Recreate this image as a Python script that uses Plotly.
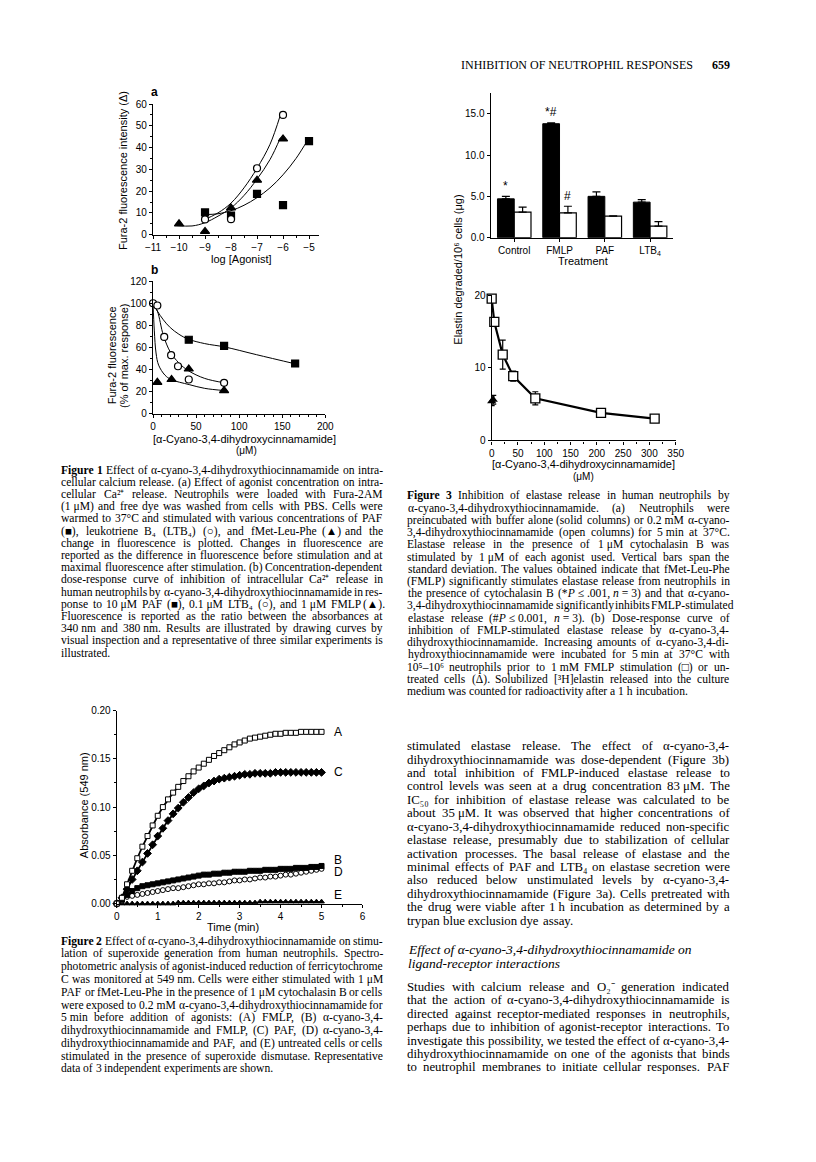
import plotly.graph_objects as go

# page is 816 x 1162; the html body keeps its default 8px margin
PAGE_W, PAGE_H = 816, 1162
OFF = 8
W, H = PAGE_W - 2 * OFF, PAGE_H - 2 * OFF
SANS = "Liberation Sans, Arial, sans-serif"
SERIF = "Liberation Serif, Times New Roman, serif"

# ---------------- Figure 1a : fluorescence vs log[agonist] ----------------
a_paf_x = [-9, -8, -7, -6, -5]
a_paf_y = [10.2, 8.8, 18.7, 13.6, 43.0]
a_ltb4_x = [-9, -8, -7, -6]
a_ltb4_y = [7.0, 7.1, 30.5, 55.0]
a_fmlp_x = [-10, -9, -8, -7, -6]
a_fmlp_y = [5.0, 1.5, 12.3, 25.0, 44.0]
# curves drawn "by visual inspection"
a_paf_cx = [-9.05, -8.5, -8.0, -7.5, -7.0, -6.5, -6.0, -5.5, -5.05]
a_paf_cy = [9.2, 9.6, 11.0, 13.5, 17.0, 21.5, 27.5, 35.0, 43.5]
a_ltb4_cx = [-9.1, -8.5, -8.0, -7.5, -7.0, -6.5, -6.1]
a_ltb4_cy = [6.5, 10.0, 14.5, 21.5, 30.5, 41.5, 55.0]
a_fmlp_cx = [-10.1, -9.5, -9.0, -8.5, -8.0, -7.5, -7.0, -6.5, -6.1]
a_fmlp_cy = [4.2, 4.0, 5.5, 8.5, 12.3, 18.0, 25.5, 34.5, 44.5]

# ---------------- Figure 1b : % of max response vs drug ----------------
b_paf_x = [41.5, 82.5, 165]
b_paf_y = [67.0, 61.5, 45.5]
b_ltb4_x = [0, 5, 13, 21, 29, 41.5, 82.5]
b_ltb4_y = [100, 98, 69.5, 53, 43, 31, 28]
b_fmlp_x = [5, 21.5, 41.5, 82.5]
b_fmlp_y = [28.5, 31, 40.5, 21]
b_paf_cx = [0, 5, 12, 20, 30, 41, 60, 83, 120, 166]
b_paf_cy = [100, 93, 85, 78, 72, 67.5, 63.5, 60.5, 53.5, 45]
b_ltb4_cx = [0, 5, 12, 20, 30, 41, 60, 83]
b_ltb4_cy = [100, 93, 71, 56, 46, 39, 32, 28]
b_fmlp_cx = [0, 1.5, 3.5, 6.5, 13.8, 21, 42, 60, 83]
b_fmlp_cy = [100, 75, 55, 44, 35, 31, 26.4, 23, 21]

# ---------------- Figure 2 : absorbance vs time ----------------
time_min = [0.0, 0.125, 0.25, 0.375, 0.5, 0.625, 0.75, 0.875, 1.0, 1.125,
            1.25, 1.375, 1.5, 1.625, 1.75, 1.875, 2.0, 2.125, 2.25, 2.375,
            2.5, 2.625, 2.75, 2.875, 3.0, 3.125, 3.25, 3.375, 3.5, 3.625,
            3.75, 3.875, 4.0, 4.125, 4.25, 4.375, 4.5, 4.625, 4.75, 4.875,
            5.0]
abs_A = [0.000, 0.006, 0.020, 0.034, 0.047, 0.059, 0.070, 0.081, 0.091, 0.100,
         0.108, 0.115, 0.121, 0.127, 0.132, 0.137, 0.141, 0.145, 0.149, 0.153,
         0.156, 0.159, 0.162, 0.165, 0.167, 0.169, 0.171, 0.172, 0.173, 0.174,
         0.175, 0.176, 0.176, 0.177, 0.177, 0.177, 0.178, 0.178, 0.178, 0.178,
         0.178]
abs_B = [0.000, 0.004, 0.009, 0.013, 0.016, 0.018, 0.019, 0.020, 0.021, 0.022,
         0.023, 0.024, 0.025, 0.026, 0.027, 0.028, 0.029, 0.030, 0.030, 0.031,
         0.031, 0.032, 0.032, 0.033, 0.033, 0.033, 0.034, 0.034, 0.034, 0.035,
         0.035, 0.035, 0.036, 0.036, 0.036, 0.037, 0.037, 0.037, 0.038, 0.038,
         0.039]
abs_C = [0.000, 0.006, 0.015, 0.025, 0.034, 0.043, 0.052, 0.061, 0.070, 0.078,
         0.086, 0.093, 0.099, 0.105, 0.110, 0.115, 0.119, 0.122, 0.125, 0.127,
         0.129, 0.130, 0.131, 0.132, 0.133, 0.134, 0.134, 0.135, 0.135, 0.135,
         0.135, 0.136, 0.136, 0.136, 0.136, 0.136, 0.136, 0.136, 0.136, 0.136,
         0.136]
abs_D = [0.000, 0.003, 0.007, 0.008, 0.009, 0.010, 0.011, 0.012, 0.013, 0.014,
         0.015, 0.016, 0.016, 0.017, 0.018, 0.019, 0.020, 0.020, 0.021, 0.021,
         0.022, 0.022, 0.023, 0.024, 0.024, 0.025, 0.025, 0.026, 0.027, 0.027,
         0.028, 0.028, 0.029, 0.030, 0.030, 0.031, 0.032, 0.033, 0.034, 0.035,
         0.036]
abs_E = [0.000, 0.000, 0.000, 0.000, 0.000, 0.000, 0.000, 0.000, 0.000, 0.000,
         0.000, 0.000, 0.001, 0.001, 0.001, 0.001, 0.001, 0.001, 0.001, 0.001,
         0.001, 0.001, 0.001, 0.001, 0.001, 0.001, 0.001, 0.001, 0.002, 0.002,
         0.002, 0.002, 0.002, 0.002, 0.002, 0.002, 0.002, 0.002, 0.002, 0.002,
         0.002]

# ---------------- Figure 3a : elastase release bars ----------------
treatments = ["Control", "FMLP", "PAF", "LTB<sub>4</sub>"]
buffer_elastase = [4.7, 13.8, 5.0, 4.3]
buffer_sd = [0.3, 0.1, 0.55, 0.3]
drug_elastase = [3.1, 3.0, 2.6, 1.4]
drug_sd = [0.6, 0.8, 0.05, 0.55]
sig_marks = [(0, "solid", "*"), (1, "solid", "*#"), (1, "open", "#")]

# ---------------- Figure 3b : dose response ----------------
dose_fmlp = [0, 5, 21, 41, 83, 208, 310]
elastin_fmlp = [19.5, 16.3, 11.8, 8.85, 5.8, 3.8, 3.0]
elastin_fmlp_sd = [0.2, 0.3, 2.0, 0.7, 0.9, 0.3, 0.3]
dose_untreated = [0, 3]
elastin_untreated = [5.4, 5.6]
elastin_untreated_sd = [0.6, 0.6]

# ---------------- page text ----------------
FIG1_CAPTION = [
    "<b>Figure</b> <b>1</b> Effect of α-cyano-3,4-dihydroxythiocinnamamide on intra-",
    "cellular calcium release. (a) Effect of agonist concentration on intra-",
    "cellular Ca²⁺ release. Neutrophils were loaded with Fura-2AM",
    "(1\u00a0μM) and free dye was washed from cells with PBS. Cells were",
    "warmed to 37°C and stimulated with various concentrations of PAF",
    "(■), leukotriene B₄ (LTB₄) (○), and fMet-Leu-Phe (▲) and the",
    "change in fluorescence is plotted. Changes in fluorescence are",
    "reported as the difference in fluorescence before stimulation and at",
    "maximal fluorescence after stimulation. (b) Concentration-dependent",
    "dose-response curve of inhibition of intracellular Ca²⁺ release in",
    "human neutrophils by α-cyano-3,4-dihydroxythiocinnamamide in res-",
    "ponse to 10\u00a0μM PAF (■), 0.1\u00a0μM LTB₄ (○), and 1\u00a0μM FMLP (▲).",
    "Fluorescence is reported as the ratio between the absorbances at",
    "340\u00a0nm and 380\u00a0nm. Results are illustrated by drawing curves by",
    "visual inspection and a representative of three similar experiments is",
    "illustrated.",
]
FIG2_CAPTION = [
    "<b>Figure</b> <b>2</b> Effect of α-cyano-3,4-dihydroxythiocinnamamide on stimu-",
    "lation of superoxide generation from human neutrophils. Spectro-",
    "photometric analysis of agonist-induced reduction of ferricytochrome",
    "C was monitored at 549\u00a0nm. Cells were either stimulated with 1\u00a0μM",
    "PAF or fMet-Leu-Phe in the presence of 1\u00a0μM cytochalasin B or cells",
    "were exposed to 0.2\u00a0mM α-cyano-3,4-dihydroxythiocinnamamide for",
    "5\u00a0min before addition of agonists: (A) FMLP, (B) α-cyano-3,4-",
    "dihydroxythiocinnamamide and FMLP, (C) PAF, (D) α-cyano-3,4-",
    "dihydroxythiocinnamamide and PAF, and (E) untreated cells or cells",
    "stimulated in the presence of superoxide dismutase. Representative",
    "data of 3 independent experiments are shown.",
]
FIG3_CAPTION = [
    "<b>Figure</b> <b>3</b> Inhibition of elastase release in human neutrophils by",
    "α-cyano-3,4-dihydroxythiocinnamamide. (a) Neutrophils were",
    "preincubated with buffer alone (solid columns) or 0.2\u00a0mM α-cyano-",
    "3,4-dihydroxythiocinnamamide (open columns) for 5\u00a0min at 37°C.",
    "Elastase release in the presence of 1\u00a0μM cytochalasin B was",
    "stimulated by 1\u00a0μM of each agonist used. Vertical bars span the",
    "standard deviation. The values obtained indicate that fMet-Leu-Phe",
    "(FMLP) significantly stimulates elastase release from neutrophils in",
    "the presence of cytochalasin B (*<i>P</i>\u00a0≤\u00a0.001, <i>n</i>\u00a0=\u00a03) and that α-cyano-",
    "3,4-dihydroxythiocinnamamide significantly inhibits FMLP-stimulated",
    "elastase release (#<i>P</i>\u00a0≤\u00a00.001, <i>n</i>\u00a0=\u00a03). (b) Dose-response curve of",
    "inhibition of FMLP-stimulated elastase release by α-cyano-3,4-",
    "dihydroxythiocinnamamide. Increasing amounts of α-cyano-3,4-di-",
    "hydroxythiocinnamamide were incubated for 5\u00a0min at 37°C with",
    "10⁵–10⁶ neutrophils prior to 1\u00a0mM FMLP stimulation (□) or un-",
    "treated cells (Δ). Solubilized [³H]elastin released into the culture",
    "medium was counted for radioactivity after a 1\u00a0h incubation.",
]
BODY_1 = [
    "stimulated elastase release. The effect of α-cyano-3,4-",
    "dihydroxythiocinnamamide was dose-dependent (Figure 3b)",
    "and total inhibition of FMLP-induced elastase release to",
    "control levels was seen at a drug concentration 83\u00a0μM. The",
    "IC₅₀ for inhibition of elastase release was calculated to be",
    "about 35\u00a0μM. It was observed that higher concentrations of",
    "α-cyano-3,4-dihydroxythiocinnamamide reduced non-specific",
    "elastase release, presumably due to stabilization of cellular",
    "activation processes. The basal release of elastase and the",
    "minimal effects of PAF and LTB₄ on elastase secretion were",
    "also reduced below unstimulated levels by α-cyano-3,4-",
    "dihydroxythiocinnamamide (Figure 3a). Cells pretreated with",
    "the drug were viable after 1\u00a0h incubation as determined by a",
    "trypan blue exclusion dye assay.",
]
HEADING = [
    "Effect of α-cyano-3,4-dihydroxythiocinnamamide on",
    "ligand-receptor interactions",
]
BODY_2 = [
    "Studies with calcium release and O₂⁻ generation indicated",
    "that the action of α-cyano-3,4-dihydroxythiocinnamamide is",
    "directed against receptor-mediated responses in neutrophils,",
    "perhaps due to inhibition of agonist-receptor interactions. To",
    "investigate this possibility, we tested the effect of α-cyano-3,4-",
    "dihydroxythiocinnamamide on one of the agonists that binds",
    "to neutrophil membranes to initiate cellular responses. PAF",
]

# Times / Liberation Serif advance widths (1/1000 em), used to justify lines
TW = dict(zip(
    " !\"#$%&'()*+,-./0123456789:;<=>?@ABCDEFGHIJKLMNOPQRSTUVWXYZ[\\]^_`abcdefghijklmnopqrstuvwxyz",
    [250, 333, 408, 500, 500, 833, 778, 180, 333, 333, 500, 564, 250, 333, 250, 278]
    + [500] * 10
    + [278, 278, 564, 564, 564, 444, 921,
       722, 667, 667, 722, 611, 556, 722, 722, 333, 389, 722, 611, 889, 722, 722, 556,
       722, 667, 556, 611, 722, 722, 944, 722, 722, 611,
       333, 278, 333, 469, 500, 333,
       444, 500, 444, 500, 444, 333, 500, 500, 278, 278, 500, 278, 778, 500, 500, 500,
       500, 333, 389, 278, 500, 500, 722, 500, 500, 444]))
TW.update({'α': 560, 'μ': 520, '°': 400, '≤': 549, '–': 500, '■': 604, '○': 604,
           '▲': 604, '□': 604, 'Δ': 612, '\u00a0': 250, '²': 320, '³': 320, '⁵': 320,
           '⁶': 320, '⁺': 360, '⁻': 360, '₄': 320, '₅': 320, '₀': 320, '₂': 320})


def word_width(word, size):
    w, bold, i = 0.0, False, 0
    while i < len(word):
        if word[i] == '<':
            j = word.index('>', i)
            tag = word[i + 1:j]
            if tag == 'b':
                bold = True
            elif tag == '/b':
                bold = False
            i = j + 1
            continue
        w += TW.get(word[i], 500) * (1.07 if bold else 1.0)
        i += 1
    return w * size / 1000.0 * 1.02


def px(x):
    return (x - OFF) / W


def py(y):
    return 1 - (y - OFF) / H


annotations = []


def add_text(text, x, y, size, family=SERIF, xanchor='left', angle=0):
    annotations.append(dict(
        text=text, x=px(x), y=py(y), xref='paper', yref='paper',
        xanchor=xanchor, yanchor='middle', showarrow=False, textangle=angle,
        borderpad=0, borderwidth=0,
        font=dict(family=family, size=size, color='black')))


def set_block(lines, x0, x1, y0, dy, size, justify_last=False):
    for k, line in enumerate(lines):
        words = line.split(' ')
        widths = [word_width(w, size) for w in words]
        last = (k == len(lines) - 1) and not justify_last
        gap = 0.25 * size
        if len(words) > 1 and not last:
            gap = max((x1 - x0 - sum(widths)) / (len(words) - 1), 0.15 * size)
        x = x0
        for w, wd in zip(words, widths):
            add_text(w, x + wd / 2, y0 + k * dy, size, xanchor='center')
            x += wd + gap


fig = go.Figure()
BLACK = 'black'


def curve(x, y, xa, ya, width=1.0):
    fig.add_trace(go.Scatter(x=x, y=y, mode='lines', xaxis=xa, yaxis=ya,
                             line=dict(color=BLACK, width=width, shape='spline', smoothing=1.0),
                             hoverinfo='skip', cliponaxis=False))


def points(x, y, xa, ya, symbol, size, fill=BLACK):
    fig.add_trace(go.Scatter(x=x, y=y, mode='markers', xaxis=xa, yaxis=ya, cliponaxis=False,
                             marker=dict(symbol=symbol, size=size, color=fill,
                                         line=dict(color=BLACK, width=1.2))))


# Figure 1a
curve(a_paf_cx, a_paf_cy, 'x', 'y')
curve(a_ltb4_cx, a_ltb4_cy, 'x', 'y')
curve(a_fmlp_cx, a_fmlp_cy, 'x', 'y')
points(a_paf_x, a_paf_y, 'x', 'y', 'square', 7)
points(a_ltb4_x, a_ltb4_y, 'x', 'y', 'circle', 7, 'white')
points(a_fmlp_x, a_fmlp_y, 'x', 'y', 'triangle-up', 8)

# Figure 1b
curve(b_paf_cx, b_paf_cy, 'x2', 'y2')
curve(b_ltb4_cx, b_ltb4_cy, 'x2', 'y2')
curve(b_fmlp_cx, b_fmlp_cy, 'x2', 'y2')
points(b_paf_x, b_paf_y, 'x2', 'y2', 'square', 7)
points(b_ltb4_x, b_ltb4_y, 'x2', 'y2', 'circle', 7, 'white')
points(b_fmlp_x, b_fmlp_y, 'x2', 'y2', 'triangle-up', 8)

# Figure 2
fig2_series = [
    (abs_E, 'triangle-up', BLACK, 1.0, 5),
    (abs_D, 'circle', 'white', 1.0, 5),
    (abs_B, 'square', BLACK, 1.3, 5),
    (abs_C, 'diamond', BLACK, 1.8, 6),
    (abs_A, 'square', 'white', 1.8, 5),
]
for vals, sym, fill, lw, ms in fig2_series:
    fig.add_trace(go.Scatter(x=time_min, y=vals, mode='lines+markers', xaxis='x3', yaxis='y3',
                             cliponaxis=False, line=dict(color=BLACK, width=lw),
                             marker=dict(symbol=sym, size=ms, color=fill,
                                         line=dict(color=BLACK, width=1))))
curve_labels = [("A", abs_A, 0), ("B", abs_B, -6), ("C", abs_C, 0), ("D", abs_D, 3), ("E", abs_E, -7)]
for name, vals, shift in curve_labels:
    annotations.append(dict(text=name, x=time_min[-1] + 0.25, y=vals[-1], xref='x3', yref='y3',
                            xanchor='left', yanchor='middle', showarrow=False, yshift=-shift,
                            font=dict(family=SANS, size=12, color=BLACK)))

# Figure 3a
BW = 0.37
fig.add_trace(go.Bar(x=list(range(len(treatments))), y=buffer_elastase, width=BW, offset=-BW,
                     xaxis='x4', yaxis='y4', marker=dict(color=BLACK, line=dict(color=BLACK, width=1)),
                     error_y=dict(type='data', symmetric=False, array=buffer_sd,
                                  arrayminus=[0] * len(buffer_sd), color=BLACK, thickness=1.2, width=4)))
fig.add_trace(go.Bar(x=list(range(len(treatments))), y=drug_elastase, width=BW, offset=0,
                     xaxis='x4', yaxis='y4', marker=dict(color='white', line=dict(color=BLACK, width=1.2)),
                     error_y=dict(type='data', symmetric=False, array=drug_sd,
                                  arrayminus=[0] * len(drug_sd), color=BLACK, thickness=1.2, width=4)))
for gi, kind, txt in sig_marks:
    if kind == 'solid':
        xm, top = gi - BW / 2, buffer_elastase[gi] + buffer_sd[gi]
    else:
        xm, top = gi + BW / 2, drug_elastase[gi] + drug_sd[gi]
    annotations.append(dict(text=txt, x=xm, y=top + 0.2, xref='x4', yref='y4', xanchor='center',
                            yanchor='bottom', showarrow=False,
                            font=dict(family=SANS, size=12, color=BLACK)))

# Figure 3b
fig.add_trace(go.Scatter(x=dose_fmlp, y=elastin_fmlp, mode='lines+markers', xaxis='x5', yaxis='y5',
                         cliponaxis=False, line=dict(color=BLACK, width=2.2),
                         marker=dict(symbol='square', size=9, color='white', line=dict(color=BLACK, width=1.3)),
                         error_y=dict(type='data', array=elastin_fmlp_sd, color=BLACK, thickness=1.2, width=3)))
fig.add_trace(go.Scatter(x=dose_untreated, y=elastin_untreated, mode='markers', xaxis='x5', yaxis='y5',
                         cliponaxis=False,
                         marker=dict(symbol='triangle-up', size=8, color=BLACK),
                         error_y=dict(type='data', array=elastin_untreated_sd, color=BLACK, thickness=1.2, width=3)))


def dom_x(a, b):
    return [px(a), px(b)]


def dom_y(bottom, top):
    return [py(bottom), py(top)]


ax = dict(showline=True, linecolor=BLACK, linewidth=1.3, ticks='outside', ticklen=3, tickwidth=1.2,
          tickcolor=BLACK, showgrid=False, zeroline=False, mirror=False,
          tickfont=dict(family=SANS, size=10, color=BLACK))


def minor(d):
    return dict(ticks='outside', ticklen=2, tickwidth=1, tickcolor=BLACK, dtick=d, showgrid=False)


fig.update_layout(
    width=W, height=H, margin=dict(l=0, r=0, t=0, b=0),
    paper_bgcolor='white', plot_bgcolor='white', showlegend=False, barmode='overlay',
    xaxis=dict(ax, domain=dom_x(148, 318), range=[-11, -4.6], tick0=-11, dtick=1, anchor='y', minor=minor(0.5)),
    yaxis=dict(ax, domain=dom_y(231, 99), range=[0, 60], dtick=10, anchor='x', minor=minor(5)),
    xaxis2=dict(ax, domain=dom_x(148, 324), range=[0, 200], dtick=50, anchor='y2', minor=minor(10)),
    yaxis2=dict(ax, domain=dom_y(412, 278), range=[0, 120], dtick=20, anchor='x2', minor=minor(10)),
    xaxis3=dict(ax, domain=dom_x(111, 362), range=[0, 6], dtick=1, anchor='y3', minor=minor(0.5)),
    yaxis3=dict(ax, domain=dom_y(907, 712), range=[0, 0.2], dtick=0.05, tickformat='.2f', anchor='x3',
                minor=minor(0.025)),
    xaxis4=dict(ax, domain=dom_x(493, 679), range=[-0.52, 3.5], tickvals=list(range(len(treatments))),
                ticktext=treatments, anchor='y4'),
    yaxis4=dict(ax, domain=dom_y(234, 88), range=[0, 17.5], tickvals=[0, 5, 10, 15], tickformat='.1f',
                anchor='x4'),
    xaxis5=dict(ax, domain=dom_x(494, 682), range=[0, 350], dtick=50, anchor='y5', minor=minor(25)),
    yaxis5=dict(ax, domain=dom_y(439, 292), range=[0, 20], dtick=10, anchor='x5'),
)

# axis titles and panel letters
add_text("Fura-2 fluorescence intensity (Δ)", 118, 166, 11, SANS, 'center', -90)
add_text("log [Agonist]", 238, 256, 11, SANS, 'center')
add_text("<b>a</b>", 150, 87, 12, SANS, 'center')
add_text("<b>b</b>", 150, 267, 12, SANS, 'center')
add_text("Fura-2 fluorescence", 106, 353, 11, SANS, 'center', -90)
add_text("(% of max. response)", 119, 353, 11, SANS, 'center', -90)
add_text("[α-Cyano-3,4-dihydroxycinnamamide]", 241, 437, 11, SANS, 'center')
add_text("(μM)", 243, 449, 10, SANS, 'center')
add_text("Absorbance (549 nm)", 77, 808, 11, SANS, 'center', -90)
add_text("Time (min)", 230, 931, 11, SANS, 'center')
add_text("Elastin degraded/10⁶ cells (μg)", 460, 266, 11, SANS, 'center', -90)
add_text("Treatment", 587, 258, 11, SANS, 'center')
add_text("[α-Cyano-3,4-dihydroxycinnamamide]", 588, 463, 11, SANS, 'center')
add_text("(μM)", 588, 475, 10, SANS, 'center')

# running head
add_text("INHIBITION OF NEUTROPHIL RESPONSES", 463, 60, 12)
add_text("<b>659</b>", 737, 60, 12, SERIF, 'right')

# captions and body text
set_block(FIG1_CAPTION, 54, 383, 469, 12.33, 11.6)
set_block(FIG2_CAPTION, 54, 383, 945, 12.9, 11.6)
set_block(FIG3_CAPTION, 408, 737, 495, 12.36, 11.6)
set_block(BODY_1, 408, 737, 748, 13.55, 12.8)
for k, line in enumerate(HEADING):
    add_text("<i>" + line + "</i>", 408, 953 + k * 15, 13.5)
set_block(BODY_2, 408, 737, 991, 13.6, 12.8, justify_last=True)

fig.update_layout(annotations=annotations)
fig.write_html("out.html")
